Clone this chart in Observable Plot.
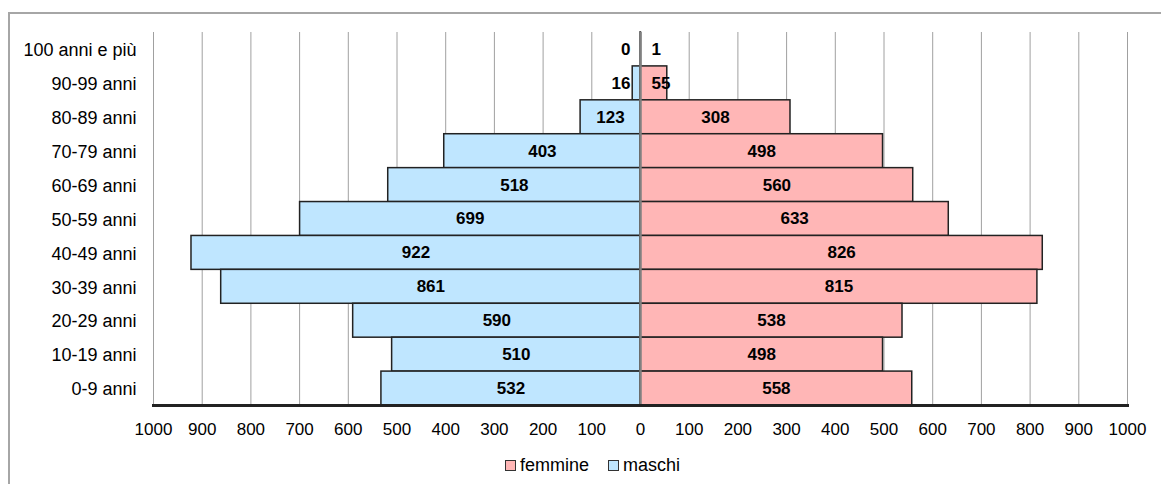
<!DOCTYPE html>
<html>
<head>
<meta charset="utf-8">
<script src="https://cdn.jsdelivr.net/npm/d3@7"></script>
<script src="https://cdn.jsdelivr.net/npm/@observablehq/plot@0.6"></script>
<style>
  html, body { margin: 0; padding: 0; background: #fff; }
  body { width: 1161px; height: 484px; position: relative; overflow: hidden; font-family: "Liberation Sans", Arial, sans-serif; }
  #frame { position: absolute; left: 8px; top: 12px; width: 1200px; height: 500px; border-top: 2px solid #a6a6a6; border-left: 2px solid #a6a6a6; box-sizing: border-box; }
  #chart { position: absolute; left: 0; top: 0; }
  #legend { position: absolute; left: 505px; top: 455px; display: flex; align-items: center; font-size: 18px; color: #000; }
  .sw { width: 9px; height: 9px; border: 1px solid #333; display: inline-block; margin-right: 4px; }
  .item { display: flex; align-items: center; margin-right: 19px; }
</style>
</head>
<body>
<div id="frame"></div>
<div id="chart"></div>
<div id="legend"></div>
<script>
const ages = ["100 anni e più", "90-99 anni", "80-89 anni", "70-79 anni", "60-69 anni", "50-59 anni", "40-49 anni", "30-39 anni", "20-29 anni", "10-19 anni", "0-9 anni"];
const maschi = [0, 16, 123, 403, 518, 699, 922, 861, 590, 510, 532];
const femmine = [1, 55, 308, 498, 560, 633, 826, 815, 538, 498, 558];
const xTicks = d3.range(-1000, 1001, 100);
const seriesNames = ["femmine", "maschi"];
const colF = "#ffb6b6";
const colM = "#bfe6ff";

const rows = ages.map((a, i) => ({age: a, m: maschi[i], f: femmine[i]}));
const small = 100; // values below this get their label placed beside the axis

const chart = Plot.plot({
  width: 1161,
  height: 440,
  marginTop: 32,
  marginBottom: 35,
  marginLeft: 153,
  marginRight: 34,
  x: {domain: [-1000, 1000]},
  y: {domain: ages, padding: 0, round: false},
  style: {fontFamily: "'Liberation Sans', Arial, sans-serif", fontSize: "17px", color: "#000", background: "transparent"},
  marks: [
    Plot.gridX(xTicks, {stroke: "#a0a0a0", strokeOpacity: 1, strokeWidth: 1}),
    Plot.barX(rows, {y: "age", x1: 0, x2: d => -d.m, fill: colM, stroke: "#222", strokeWidth: 1.5}),
    Plot.barX(rows, {y: "age", x1: 0, x2: d => d.f, fill: colF, stroke: "#222", strokeWidth: 1.5}),
    Plot.ruleX([0], {stroke: "#808080", strokeWidth: 2.5}),
    Plot.frame({anchor: "bottom", stroke: "#222", strokeWidth: 3}),
    Plot.text(rows.filter(d => d.m >= small), {y: "age", x: d => -d.m / 2, text: d => String(d.m), fontWeight: "bold", fontSize: 17}),
    Plot.text(rows.filter(d => d.f >= small), {y: "age", x: d => d.f / 2, text: d => String(d.f), fontWeight: "bold", fontSize: 17}),
    Plot.text(rows.filter(d => d.m < small), {y: "age", x: 0, dx: -10, textAnchor: "end", text: d => String(d.m), fontWeight: "bold", fontSize: 17}),
    Plot.text(rows.filter(d => d.f < small), {y: "age", x: 0, dx: 11, textAnchor: "start", text: d => String(d.f), fontWeight: "bold", fontSize: 17}),
    Plot.axisX({ticks: xTicks, tickSize: 0, tickPadding: 17, tickFormat: d => String(Math.abs(d)), fontSize: 17, label: null}),
    Plot.axisY({tickSize: 0, tickPadding: 17, fontSize: 18, label: null, dy: 1})
  ]
});
document.getElementById("chart").appendChild(chart);

const legend = document.getElementById("legend");
const colors = {femmine: colF, maschi: colM};
seriesNames.forEach(n => {
  const it = document.createElement("div");
  it.className = "item";
  const sw = document.createElement("span");
  sw.className = "sw";
  sw.style.background = colors[n];
  it.appendChild(sw);
  it.appendChild(document.createTextNode(n));
  legend.appendChild(it);
});
</script>
</body>
</html>
